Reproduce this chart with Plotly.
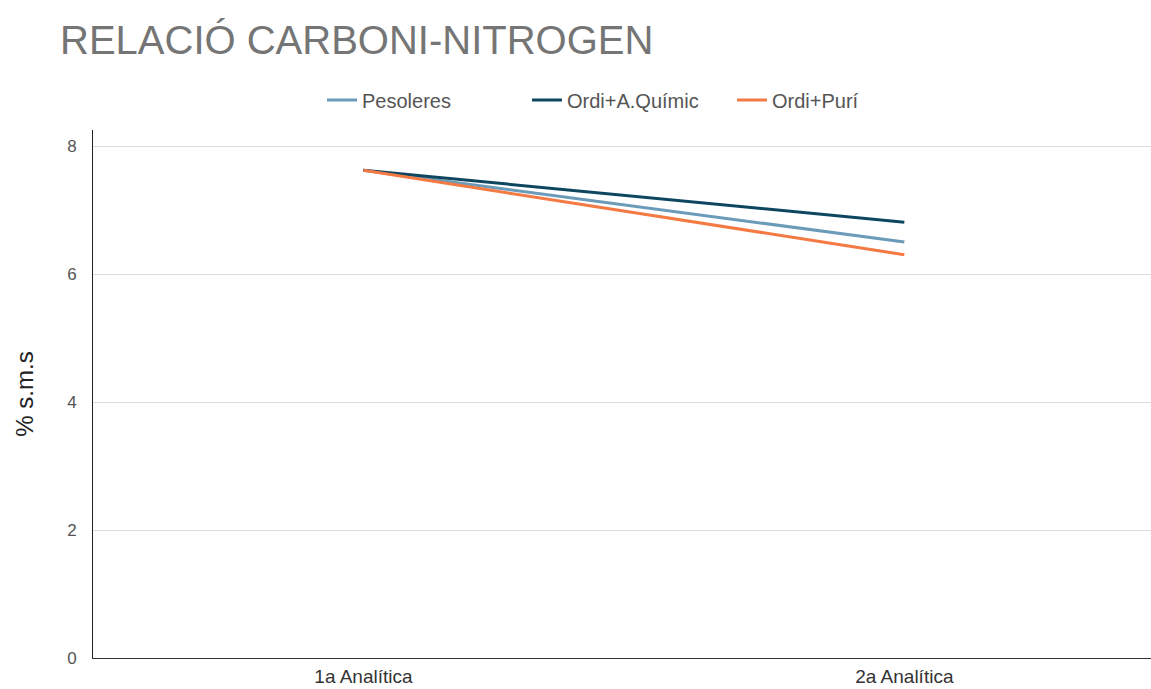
import plotly.graph_objects as go

# Categories and series values
analitiques = ["1a Analítica", "2a Analítica"]
pesoleres = [7.62, 6.50]
ordi_quimic = [7.62, 6.81]
ordi_puri = [7.62, 6.30]

series = [
    ("Pesoleres", pesoleres, "#6b9bb8"),
    ("Ordi+A.Químic", ordi_quimic, "#0e4660"),
    ("Ordi+Purí", ordi_puri, "#f47a44"),
]

fig = go.Figure()
for name, vals, color in series:
    fig.add_trace(go.Scatter(
        x=analitiques, y=vals, name=name, mode="lines",
        line=dict(color=color, width=3),
    ))

fig.update_layout(
    width=1151, height=689,
    margin=dict(l=93, r=0, t=130, b=31),
    paper_bgcolor="white", plot_bgcolor="white",
    font=dict(family="Liberation Sans, Arial, sans-serif", color="#444"),
    title=dict(
        text="RELACIÓ CARBONI-NITROGEN",
        x=60 / 1151, xanchor="left", xref="container",
        y=1 - 40 / 689, yanchor="middle", yref="container",
        font=dict(size=40, color="#757575"),
    ),
    showlegend=True,
    legend=dict(
        orientation="h", x=322 / 1151, xanchor="left", xref="container",
        y=1 - 100 / 689, yanchor="middle", yref="container",
        font=dict(size=20, color="#555"),
        itemwidth=30, entrywidth=160, tracegroupgap=0,
    ),
    xaxis=dict(
        type="category", range=[-0.5, 1.456],
        showline=True, linecolor="#333", linewidth=1,
        showgrid=False, ticks="", automargin=False,
        ticklabelstandoff=1,
        tickfont=dict(size=19, color="#333"),
    ),
    yaxis=dict(
        range=[0, 8.25], tickvals=[0, 2, 4, 6, 8],
        showline=True, linecolor="#222", linewidth=1,
        showgrid=True, gridcolor="#dcdcdc", gridwidth=1,
        zeroline=False, ticks="", automargin=False,
        ticklabelstandoff=12,
        tickfont=dict(size=17, color="#555"),
        title=dict(text="% s.m.s", font=dict(size=24, color="#222"), standoff=26),
    ),
)

fig.write_html("out.html")
